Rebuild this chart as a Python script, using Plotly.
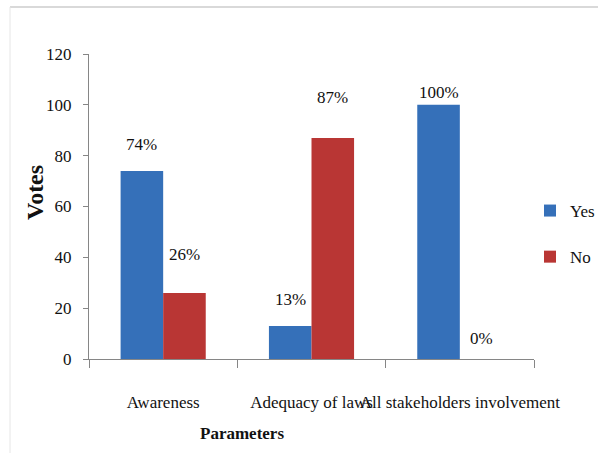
import plotly.graph_objects as go

# Survey results per parameter (percent of votes)
categories = ["Awareness", "Adequacy of laws", "All stakeholders involvement"]
yes_votes = [74, 13, 100]
no_votes = [26, 87, 0]
y_ticks = [0, 20, 40, 60, 80, 100, 120]

# Label placement above each bar (px), by series
yes_label_lift = [26, 26, 12]
no_label_lift = [38, 40, 21]

FONT = "Liberation Serif, Times New Roman, serif"
BLUE = "#3570b9"
RED = "#b93634"

fig = go.Figure()
fig.add_trace(go.Bar(name="Yes", x=categories, y=yes_votes, marker_color=BLUE,
                     marker_line_width=0, legendgroup="yes"))
fig.add_trace(go.Bar(name="No", x=categories, y=no_votes, marker_color=RED,
                     marker_line_width=0, legendgroup="no"))

# Value labels, one per bar, sitting above the bar tops
half_bar = 21.3
annotations = []
for cat, v, lift in zip(categories, yes_votes, yes_label_lift):
    annotations.append(dict(x=cat, y=v, xref="x", yref="y", text=f"{v}%", showarrow=False,
                            xshift=-half_bar, yshift=lift, yanchor="middle",
                            font=dict(family=FONT, size=17, color="#111")))
for cat, v, lift in zip(categories, no_votes, no_label_lift):
    annotations.append(dict(x=cat, y=v, xref="x", yref="y", text=f"{v}%", showarrow=False,
                            xshift=half_bar, yshift=lift, yanchor="middle",
                            font=dict(family=FONT, size=17, color="#111")))

# Axis titles
annotations.append(dict(x=(242 - 89) / 445, y=-74 / 305, xref="paper", yref="paper",
                        text="<b>Parameters</b>", showarrow=False, xanchor="center",
                        yanchor="middle", font=dict(family=FONT, size=17, color="#111")))
annotations.append(dict(x=(35 - 89) / 445, y=(359 - 193) / 305, xref="paper", yref="paper",
                        text="<b>Votes</b>", showarrow=False, textangle=-90, xanchor="center",
                        yanchor="middle", font=dict(family=FONT, size=24, color="#111")))

# Light frame along the top and left edges
frame = dict(color="#d9d9d9", width=2)
shapes = [
    dict(type="line", xref="paper", yref="paper", x0=(10 - 89) / 445, x1=(600 - 89) / 445,
         y0=(359 - 7) / 305, y1=(359 - 7) / 305, line=frame),
    dict(type="line", xref="paper", yref="paper", x0=(10 - 89) / 445, x1=(10 - 89) / 445,
         y0=(359 - 7) / 305, y1=(359 - 460) / 305, line=dict(color="#e6e6e6", width=1)),
]

fig.update_layout(
    width=598, height=453,
    margin=dict(l=89, r=64, t=54, b=94, autoexpand=False),
    paper_bgcolor="white", plot_bgcolor="white",
    barmode="group", bargap=0.426, bargroupgap=0,
    font=dict(family=FONT, size=17, color="#111"),
    showlegend=True,
    legend=dict(x=(530 - 89) / 445, y=(359 - 234) / 305, xanchor="left", yanchor="middle",
                tracegroupgap=21, font=dict(family=FONT, size=17, color="#111"),
                bgcolor="rgba(0,0,0,0)"),
    annotations=annotations,
    shapes=shapes,
)
fig.update_xaxes(
    type="category", showline=True, linecolor="#868686", linewidth=1,
    ticks="outside", ticklen=8, tickcolor="#868686", tickson="boundaries",
    tickangle=0, ticklabelstandoff=28, showgrid=False, zeroline=False,
    tickfont=dict(family=FONT, size=17, color="#111"),
)
fig.update_yaxes(
    range=[0, 120], tickvals=y_ticks, showline=True, linecolor="#868686", linewidth=1,
    ticks="outside", ticklen=5, tickcolor="#868686", ticklabelstandoff=8,
    showgrid=False, zeroline=False,
    tickfont=dict(family=FONT, size=17, color="#111"),
)

fig.write_html("out.html")
